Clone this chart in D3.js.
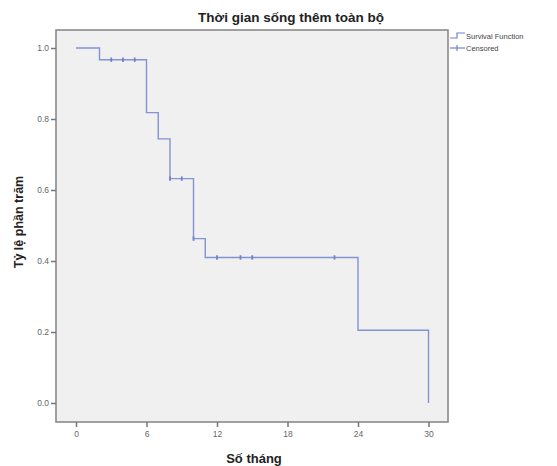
<!DOCTYPE html>
<html><head><meta charset="utf-8">
<script src="https://cdn.jsdelivr.net/npm/d3@7"></script>
<style>body{margin:0;background:#fff;}svg{display:block;font-family:Arial,"Liberation Sans",sans-serif;}</style>
</head><body>
<svg id="c" width="557" height="466"></svg>
<script>
// Survival step function: time points and survival after each event
const stepTimes = [0, 2, 6, 7, 8, 10, 11, 24, 30];
const stepSurvival = [1.0, 0.967, 0.818, 0.744, 0.632, 0.463, 0.41, 0.205, 0.0];
// Censored observations
const censorTimes = [3, 4, 5, 8, 9, 10, 12, 14, 15, 22];
const xTicks = [0, 6, 12, 18, 24, 30];
const yTicks = [0.0, 0.2, 0.4, 0.6, 0.8, 1.0];
const titleText = "Thời gian sống thêm toàn bộ";
const xLabel = "Số tháng";
const yLabel = "Tỷ lệ phần trăm";
const legendLabels = ["Survival Function", "Censored"];

const svg = d3.select("#c");
const frame = {l: 56, r: 448, t: 30, b: 422};
const x = d3.scaleLinear().domain([0, 30]).range([76, 428.5]);
const y = d3.scaleLinear().domain([0, 1]).range([403, 48]);
const lineColor = "#7182cc";

svg.append("rect").attr("x", frame.l).attr("y", frame.t)
  .attr("width", frame.r - frame.l).attr("height", frame.b - frame.t)
  .attr("fill", "#f0f0f0").attr("stroke", "#8a8a8a").attr("stroke-width", 1.6);

// axes
const xAxis = d3.axisBottom(x).tickValues(xTicks).tickSize(5).tickPadding(4).tickFormat(d3.format("d"));
const gx = svg.append("g").attr("transform", `translate(0,${frame.b})`).call(xAxis);
const yAxis = d3.axisLeft(y).tickValues(yTicks).tickSize(5).tickPadding(2).tickFormat(d3.format(".1f"));
const gy = svg.append("g").attr("transform", `translate(${frame.l},0)`).call(yAxis);
[gx, gy].forEach(g => {
  g.select(".domain").remove();
  g.selectAll(".tick line").attr("stroke", "#777").attr("stroke-width", 1.5);
  g.selectAll(".tick text").attr("fill", "#666").style("font-size", "8.5px");
});

// step line
const pts = [];
for (let i = 0; i < stepTimes.length; i++) {
  pts.push([stepTimes[i], stepSurvival[i]]);
  if (i < stepTimes.length - 1) pts.push([stepTimes[i + 1], stepSurvival[i]]);
}
const line = d3.line().x(d => x(d[0])).y(d => y(d[1]));
svg.append("path").datum(pts).attr("d", line).attr("fill", "none")
  .attr("stroke", lineColor).attr("stroke-width", 1.4).attr("opacity", 0.85);

// censor marks
function survAt(t) {
  let s = 1;
  for (let i = 0; i < stepTimes.length; i++) if (stepTimes[i] <= t) s = stepSurvival[i];
  return s;
}
svg.append("g").selectAll("line").data(censorTimes).join("line")
  .attr("x1", d => x(d)).attr("x2", d => x(d))
  .attr("y1", d => y(survAt(d)) - 2.2).attr("y2", d => y(survAt(d)) + 2.2)
  .attr("stroke", lineColor).attr("stroke-width", 1.8);

// titles
svg.append("text").attr("x", 291).attr("y", 22).attr("text-anchor", "middle")
  .style("font-size", "13.5px").style("font-weight", "bold").attr("fill", "#222").text(titleText);
svg.append("text").attr("x", 254).attr("y", 463).attr("text-anchor", "middle")
  .style("font-size", "13px").style("font-weight", "bold").attr("fill", "#222").text(xLabel);
svg.append("text").attr("transform", "translate(23,222) rotate(-90)").attr("text-anchor", "middle")
  .style("font-size", "12.5px").style("font-weight", "bold").attr("fill", "#222").text(yLabel);

// legend
const lg = svg.append("g");
lg.append("path").attr("d", "M450,38 H457 V33 H465").attr("fill", "none").attr("stroke", lineColor).attr("stroke-width", 1.2);
lg.append("line").attr("x1", 450).attr("x2", 465).attr("y1", 48).attr("y2", 48).attr("stroke", lineColor).attr("stroke-width", 1.2);
lg.append("line").attr("x1", 457).attr("x2", 457).attr("y1", 45).attr("y2", 51).attr("stroke", lineColor).attr("stroke-width", 1.2);
lg.selectAll("text").data(legendLabels).join("text")
  .attr("x", 466).attr("y", (d, i) => 39 + i * 12)
  .style("font-size", "7.5px").attr("fill", "#444").text(d => d);
</script>
</body></html>
